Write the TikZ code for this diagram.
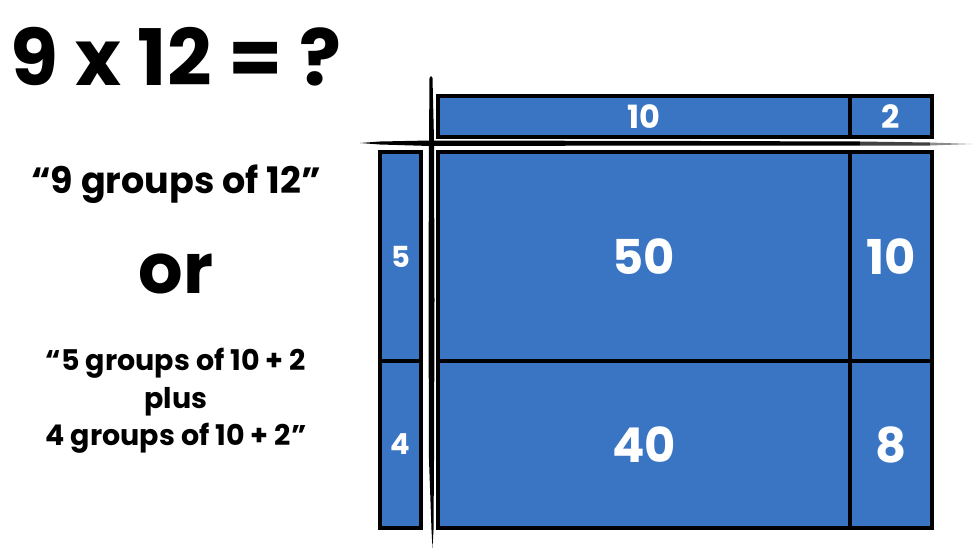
\documentclass[tikz,border=0pt]{standalone}
\usepackage{fontspec}
\setmainfont{Poppins}
\definecolor{cellblue}{HTML}{3A75C4}
\tikzset{
  cell/.style={draw=black, line width=3.2pt, fill=cellblue, text=white, inner sep=0pt, font=\bfseries},
  lbl/.style={text=black, font=\bfseries, inner sep=0pt, align=center}
}
\begin{document}
\begin{tikzpicture}[x=1pt,y=-1pt]
\useasboundingbox (0,0) rectangle (980,551);
% title texts
\node[lbl, font=\bfseries\fontsize{78}{80}\selectfont, anchor=base] (title) at (176,85) {9 x 12 = ?};
\node[lbl, font=\bfseries\fontsize{36.5}{38}\selectfont, anchor=base] (t1) at (176,193) {“9 groups of 12”};
\node[lbl, font=\bfseries\fontsize{70}{72}\selectfont, anchor=base] (t2) at (176,293) {or};
\node[lbl, font=\bfseries\fontsize{28.5}{37.5}\selectfont, anchor=north] (t3) at (176,348) {“5 groups of 10 + 2\\plus\\4 groups of 10 + 2”};
% rough cross lines (drawn as filled strokes)
\coordinate (vt) at (431,76);
\coordinate (vb) at (432.5,548);
\coordinate (hl) at (360,143);
\coordinate (hr) at (972,144);
\fill[black] (vt) -- (432.5,78) -- (434,140) -- (434.5,300) -- (434,460) -- (433.5,530) -- (vb)
  -- (431.5,530) -- (429,460) -- (428.5,300) -- (429,140) -- (429.5,78) -- cycle;
\fill[black] (hl) -- (380,141.5) -- (430,140.5) -- (700,141) -- (860,141.5)
  -- (860,145.5) -- (700,145.5) -- (430,146) -- (380,144.5) -- cycle;
\fill[black!75] (860,141.5) -- (930,142.5) -- (930,145.5) -- (860,145.5) -- cycle;
\fill[black!45] (930,142.5) -- (hr) -- (930,145.5) -- cycle;
% top bar
\node[cell, minimum width=412pt, minimum height=41pt, font=\bfseries\fontsize{32}{34}\selectfont] (top10) at (644,116.5) {10};
\node[cell, minimum width=82pt, minimum height=41pt, font=\bfseries\fontsize{32}{34}\selectfont] (top2) at (891,116.5) {2};
% left column
\node[cell, minimum width=41pt, minimum height=209pt, font=\bfseries\fontsize{29}{31}\selectfont] (l5) at (400.5,256.5) {5};
\node[cell, minimum width=41pt, minimum height=167pt, font=\bfseries\fontsize{29}{31}\selectfont] (l4) at (400.5,444.5) {4};
% main grid
\node[cell, minimum width=412pt, minimum height=209pt, font=\bfseries\fontsize{48}{50}\selectfont] (c50) at (644,256.5) {50};
\node[cell, minimum width=82pt, minimum height=209pt, font=\bfseries\fontsize{48}{50}\selectfont] (c10) at (891,256.5) {10};
\node[cell, minimum width=412pt, minimum height=167pt, font=\bfseries\fontsize{48}{50}\selectfont] (c40) at (644,444.5) {40};
\node[cell, minimum width=82pt, minimum height=167pt, font=\bfseries\fontsize{48}{50}\selectfont] (c8) at (891,444.5) {8};
\end{tikzpicture}
\end{document}
